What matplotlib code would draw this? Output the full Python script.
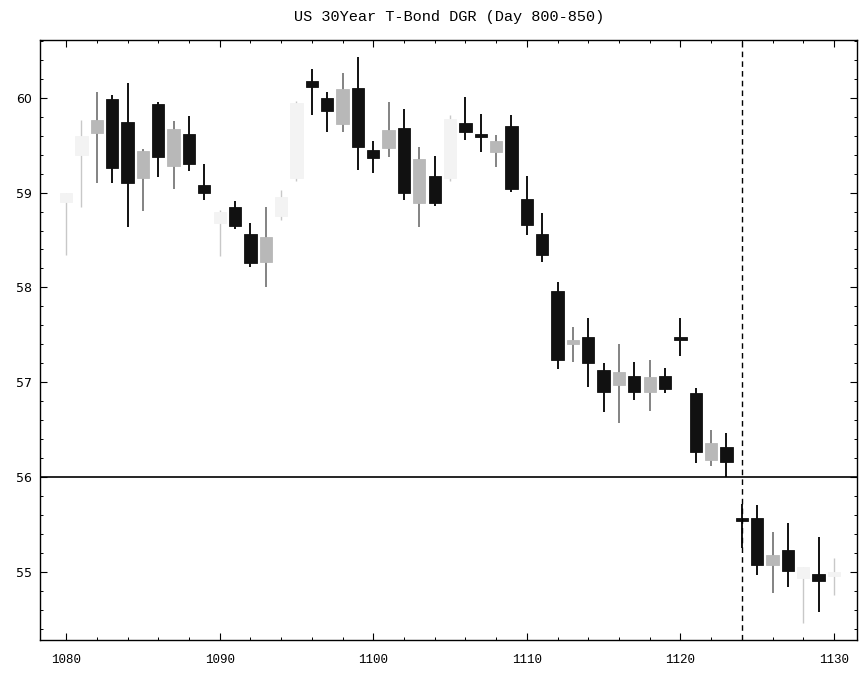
import matplotlib
matplotlib.use("Agg")
import matplotlib.pyplot as plt
from matplotlib.ticker import MultipleLocator

# ---- data ----
days = list(range(1080, 1131))
opens = [58.90, 59.40, 59.63, 59.99, 59.75, 59.15, 59.94, 59.28, 59.62, 59.08,
         58.68, 58.85, 58.56, 58.27, 58.75, 59.15, 60.18, 60.00, 59.72, 60.10,
         59.45, 59.47, 59.68, 58.89, 59.18, 59.15, 59.73, 59.60, 59.43, 59.70,
         58.93, 58.56, 57.96, 57.40, 57.48, 57.13, 56.97, 57.06, 56.90, 57.06,
         57.46, 56.89, 56.18, 56.32, 55.55, 55.57, 55.07, 55.23, 54.93, 54.98,
         54.95]
highs = [59.00, 59.77, 60.06, 60.03, 60.16, 59.46, 59.96, 59.76, 59.81, 59.30,
         58.82, 58.91, 58.68, 58.85, 59.03, 59.97, 60.30, 60.06, 60.26, 60.43,
         59.54, 59.96, 59.88, 59.48, 59.39, 59.82, 60.01, 59.83, 59.61, 59.82,
         59.17, 58.79, 58.06, 57.58, 57.68, 57.20, 57.40, 57.21, 57.23, 57.15,
         57.68, 56.94, 56.50, 56.46, 55.72, 55.70, 55.42, 55.51, 55.05, 55.37,
         55.15]
lows = [58.34, 58.85, 59.10, 59.10, 58.64, 58.81, 59.16, 59.04, 59.23, 58.92,
        58.33, 58.62, 58.22, 58.00, 58.71, 59.12, 59.82, 59.64, 59.64, 59.24,
        59.21, 59.38, 58.92, 58.64, 58.86, 59.12, 59.56, 59.43, 59.27, 59.01,
        58.55, 58.27, 57.14, 57.21, 56.95, 56.69, 56.57, 56.81, 56.70, 56.89,
        57.28, 56.15, 56.12, 56.00, 55.25, 54.97, 54.78, 54.84, 54.46, 54.58,
        54.76]
closes = [59.00, 59.60, 59.77, 59.26, 59.10, 59.44, 59.38, 59.67, 59.30, 59.00,
          58.80, 58.65, 58.26, 58.53, 58.95, 59.95, 60.11, 59.86, 60.09, 59.48,
          59.36, 59.66, 59.00, 59.35, 58.89, 59.78, 59.64, 59.59, 59.54, 59.04,
          58.66, 58.34, 57.23, 57.45, 57.20, 56.90, 57.11, 56.90, 57.05, 56.93,
          57.45, 56.26, 56.36, 56.16, 55.54, 55.07, 55.18, 55.01, 55.05, 54.90,
          55.00]
# shading class of each candle as printed: k = black, g = halftone grey, l = faint
shade = ['l', 'l', 'g', 'k', 'k', 'g', 'k', 'g', 'k', 'k',
         'l', 'k', 'k', 'g', 'l', 'l', 'k', 'k', 'g', 'k',
         'k', 'g', 'k', 'g', 'k', 'l', 'k', 'k', 'g', 'k',
         'k', 'k', 'k', 'g', 'k', 'k', 'g', 'k', 'g', 'k',
         'k', 'k', 'g', 'k', 'k', 'k', 'g', 'k', 'l', 'k',
         'l']
title = "US 30Year T-Bond DGR (Day 800-850)"
split_level = 56
split_day = 1124

# ---- styling ----
body_col = {'k': '#111111', 'g': '#b8b8b8', 'l': '#f3f3f3'}
edge_col = {'k': '#111111', 'g': '#b8b8b8', 'l': '#f3f3f3'}
wick_col = {'k': '#111111', 'g': '#6e6e6e', 'l': '#c8c8c8'}
wick_w = {'k': 1.4, 'g': 1.2, 'l': 1.0}

fig = plt.figure(figsize=(8.59, 6.77), dpi=100)
ax = fig.add_axes([40 / 859, 1 - 640 / 677, 817 / 859, 600 / 677])

for d, o, h, l, c, s in zip(days, opens, highs, lows, closes, shade):
    ax.vlines(d, l, h, color=wick_col[s], linewidth=wick_w[s], zorder=2)
    bottom = min(o, c)
    height = max(abs(c - o), 0.025)
    ax.bar(d, height, bottom=bottom, width=0.8, color=body_col[s],
           edgecolor=edge_col[s], linewidth=0.6, zorder=3)

ax.axhline(split_level, color='black', linewidth=1.2, zorder=4)
ax.axvline(split_day, color='black', linewidth=1.0, linestyle=(0, (4, 3)), zorder=4)

ax.set_xlim(1078.3, 1131.5)
ax.set_ylim(54.28, 60.61)
ax.xaxis.set_major_locator(MultipleLocator(10))
ax.xaxis.set_minor_locator(MultipleLocator(2))
ax.yaxis.set_major_locator(MultipleLocator(1))
ax.yaxis.set_minor_locator(MultipleLocator(0.2))
ax.tick_params(which='both', direction='in', top=True, right=True, color='black')
ax.tick_params(which='major', length=5, width=0.8)
ax.tick_params(which='minor', length=2.5, width=0.7)
ax.tick_params(axis='x', which='major', pad=10, labelsize=9)
ax.tick_params(axis='y', which='major', pad=6, labelsize=9)
for lab in ax.get_xticklabels():
    lab.set_family(['Liberation Mono', 'DejaVu Sans Mono'])
for sp in ax.spines.values():
    sp.set_linewidth(1.0)

fig.text(449 / 859, 1 - 17 / 677, title, ha='center', va='center', fontsize=11,
         family=['Liberation Mono', 'DejaVu Sans Mono'])

fig.savefig("out.png", dpi=100)
